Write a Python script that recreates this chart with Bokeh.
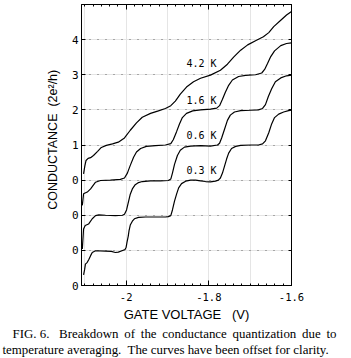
from bokeh.plotting import figure
from bokeh.models import Range1d, LinearAxis, FixedTicker, Title, Grid, CustomLabelingPolicy
from bokeh.core.properties import value
from bokeh.embed import file_html
from bokeh.resources import INLINE

# ---------------- data ----------------
temps = ["0.3 K", "0.6 K", "1.6 K", "4.2 K"]
offsets = [0, 1, 2, 3]

v_03 = [-2.103, -2.1005, -2.0985, -2.094, -2.090, -2.086, -2.082, -2.074, -2.050, -2.036,
        -2.026, -2.019, -2.010, -2.003, -2.000, -1.998, -1.995, -1.993, -1.990, -1.985,
        -1.980, -1.970, -1.953, -1.929, -1.905, -1.898, -1.892, -1.888, -1.883, -1.878,
        -1.873, -1.866, -1.856, -1.844, -1.832, -1.820, -1.808, -1.796, -1.784, -1.777,
        -1.772, -1.767, -1.762, -1.757, -1.752, -1.745, -1.735, -1.723, -1.699, -1.680,
        -1.670, -1.663, -1.655, -1.648, -1.641, -1.631, -1.619, -1.607, -1.600]
g_03 = [0.30, 0.45, 0.61, 0.66, 0.75, 0.85, 0.94, 0.99, 0.98, 0.97,
        0.94, 0.95, 0.99, 1.02, 1.09, 1.23, 1.40, 1.56, 1.72, 1.83,
        1.90, 1.94, 1.95, 1.95, 1.95, 1.96, 1.99, 2.15, 2.40, 2.60,
        2.78, 2.90, 2.97, 3.00, 3.00, 2.98, 2.96, 2.95, 2.97, 3.00,
        3.06, 3.20, 3.40, 3.60, 3.77, 3.90, 3.96, 3.99, 4.00, 4.00,
        4.03, 4.12, 4.35, 4.60, 4.78, 4.88, 4.94, 4.98, 4.99]

v_06 = [-2.106, -2.103, -2.099, -2.091, -2.082, -2.074, -2.066, -2.050, -2.026, -2.009,
        -2.004, -1.999, -1.994, -1.990, -1.985, -1.978, -1.970, -1.961, -1.941, -1.917,
        -1.898, -1.892, -1.888, -1.883, -1.876, -1.869, -1.859, -1.844, -1.820, -1.796,
        -1.779, -1.774, -1.769, -1.762, -1.755, -1.748, -1.738, -1.723, -1.699, -1.680,
        -1.670, -1.663, -1.656, -1.648, -1.639, -1.626, -1.612, -1.600]
g_06 = [0.04, 0.61, 0.71, 0.75, 0.90, 0.99, 1.01, 1.00, 0.99, 1.00,
        1.03, 1.15, 1.40, 1.60, 1.75, 1.87, 1.93, 1.96, 1.98, 1.98,
        1.99, 2.03, 2.20, 2.45, 2.70, 2.85, 2.94, 2.97, 2.98, 2.97,
        3.00, 3.05, 3.20, 3.45, 3.70, 3.85, 3.94, 3.98, 3.99, 4.00,
        4.04, 4.15, 4.38, 4.60, 4.80, 4.91, 4.97, 4.99]

v_16 = [-2.106, -2.103, -2.094, -2.086, -2.074, -2.062, -2.038, -2.014, -2.004, -1.997,
        -1.990, -1.982, -1.975, -1.965, -1.951, -1.929, -1.905, -1.892, -1.886, -1.878,
        -1.871, -1.864, -1.854, -1.839, -1.820, -1.796, -1.781, -1.774, -1.767, -1.760,
        -1.752, -1.743, -1.728, -1.711, -1.687, -1.672, -1.665, -1.658, -1.651, -1.641,
        -1.626, -1.612, -1.600]
g_16 = [0.28, 0.61, 0.66, 0.75, 0.94, 0.99, 1.00, 1.02, 1.06, 1.20,
        1.42, 1.65, 1.80, 1.90, 1.96, 1.98, 2.00, 2.04, 2.15, 2.38,
        2.60, 2.78, 2.90, 2.97, 3.00, 3.02, 3.05, 3.12, 3.30, 3.50,
        3.70, 3.85, 3.95, 3.98, 4.00, 4.05, 4.15, 4.32, 4.50, 4.68,
        4.83, 4.89, 4.91]

v_42 = [-2.103, -2.100, -2.097, -2.092, -2.086, -2.079, -2.069, -2.060, -2.048, -2.033,
        -2.019, -2.004, -1.990, -1.975, -1.961, -1.941, -1.922, -1.905, -1.892, -1.881,
        -1.869, -1.854, -1.837, -1.820, -1.796, -1.772, -1.755, -1.740, -1.723, -1.706,
        -1.687, -1.668, -1.655, -1.643, -1.626, -1.612, -1.600]
g_42 = [0.18, 0.40, 0.56, 0.62, 0.64, 0.70, 0.82, 0.93, 0.99, 1.03,
        1.08, 1.20, 1.42, 1.63, 1.79, 1.90, 1.97, 2.04, 2.12, 2.25,
        2.45, 2.65, 2.80, 2.90, 2.99, 3.13, 3.30, 3.50, 3.70, 3.85,
        3.97, 4.08, 4.20, 4.37, 4.55, 4.70, 4.80]

curves_v = [v_03, v_06, v_16, v_42]
curves_g = [g_03, g_06, g_16, g_42]

label_x = [-1.854, -1.854, -1.854, -1.854]
label_y = [3.28, 4.28, 5.28, 6.33]

x_major = [-2.0, -1.8, -1.6]
x_labels = ["-2", "-1.8", "-1.6"]
x_minor = [-2.10, -2.08, -2.06, -2.04, -2.02, -1.98, -1.96, -1.94, -1.92, -1.90,
           -1.88, -1.86, -1.84, -1.82, -1.78, -1.76, -1.74, -1.72, -1.70, -1.68,
           -1.66, -1.64, -1.62]
y_ticks = [0, 1, 2, 3, 4, 5, 6, 7]
y_labels = ["0", "0", "0", "0", "1", "2", "3", "4"]
grid_levels = [1, 2, 3, 4, 5, 6, 7]

x_title = "GATE VOLTAGE\u00a0\u00a0\u00a0(V)"
y_title = "\u00a0\u00a0\u00a0CONDUCTANCE\u00a0\u00a0(2e\u00b2/h)"
caption_1 = ("FIG. 6.\u00a0\u00a0 Breakdown\u2009 of\u2009 the\u2009 conductance\u2009 "
             "quantization\u2009 due\u2009 to")
caption_2 = "temperature averaging.\u00a0 The curves have been offset for clarity."

# ---------------- figure ----------------
p = figure(width=351, height=358,
           x_range=Range1d(-2.108, -1.6), y_range=Range1d(0, 8),
           x_axis_location=None, y_axis_location=None,
           output_backend="svg", toolbar_location=None,
           min_border_left=81, min_border_right=60,
           min_border_top=4, min_border_bottom=73)
p.background_fill_color = "white"
p.border_fill_color = "white"
p.outline_line_color = "black"
p.outline_line_width = 1

FONT_TICK = "DejaVu Sans Mono"
NO_LABELS = CustomLabelingPolicy(code="return new Set()")

def style_axis(ax, tick_in, minor_in, show_labels):
    ax.axis_line_color = "black"
    ax.major_tick_in = tick_in
    ax.major_tick_out = 0
    ax.minor_tick_in = minor_in
    ax.minor_tick_out = 0
    ax.major_tick_line_color = "black"
    ax.minor_tick_line_color = "black" if minor_in else None
    ax.major_label_text_font = FONT_TICK
    ax.major_label_text_color = "black"
    if show_labels:
        ax.major_label_text_font_size = "10.5px"
    else:
        ax.major_label_policy = NO_LABELS
        ax.major_label_standoff = 0
        ax.major_label_text_font_size = "1px"

xb = LinearAxis(ticker=FixedTicker(ticks=x_major, minor_ticks=x_minor))
style_axis(xb, 5, 2, True)
xb.major_label_overrides = {t: s for t, s in zip(x_major, x_labels)}
xb.major_label_standoff = 7
xb.axis_label = x_title
xb.axis_label_text_font = "Liberation Sans"
xb.axis_label_text_font_size = "13px"
xb.axis_label_text_font_style = "normal"
xb.axis_label_text_color = "black"
xb.axis_label_standoff = 3
p.add_layout(xb, "below")

xt = LinearAxis(ticker=FixedTicker(ticks=x_major, minor_ticks=x_minor))
style_axis(xt, 5, 2, False)
p.add_layout(xt, "above")

yl = LinearAxis(ticker=FixedTicker(ticks=y_ticks))
style_axis(yl, 4, 0, True)
yl.major_label_text_font_size = "11px"
yl.major_label_overrides = {t: s for t, s in zip(y_ticks, y_labels)}
yl.major_label_standoff = 3
yl.axis_label = y_title
yl.axis_label_text_font = "Liberation Sans"
yl.axis_label_text_font_size = "12.5px"
yl.axis_label_text_font_style = "normal"
yl.axis_label_text_color = "black"
yl.axis_label_standoff = 9
p.add_layout(yl, "left")

yr = LinearAxis(ticker=FixedTicker(ticks=y_ticks))
style_axis(yr, 3, 0, False)
p.add_layout(yr, "right")

grid = Grid(dimension=1, ticker=FixedTicker(ticks=grid_levels),
            grid_line_color="#666666", grid_line_dash="1 7", grid_line_width=1)
p.add_layout(grid)

for v, g, off in zip(curves_v, curves_g, offsets):
    p.line(v, [gi + off for gi in g], line_color="black", line_width=1.2)

p.text(x=label_x, y=label_y, text=temps,
       text_font=value(FONT_TICK), text_font_size="10px",
       text_baseline="middle", text_align="left", text_color="black")

for cap, off in ((caption_1, -69), (caption_2, -79)):
    t = Title(text=cap, align="left", offset=off,
              text_font="Liberation Serif", text_font_size="12.9px",
              text_font_style="normal", text_color="black", standoff=0)
    p.add_layout(t, "below")

open("out.html", "w").write(file_html(p, INLINE))
